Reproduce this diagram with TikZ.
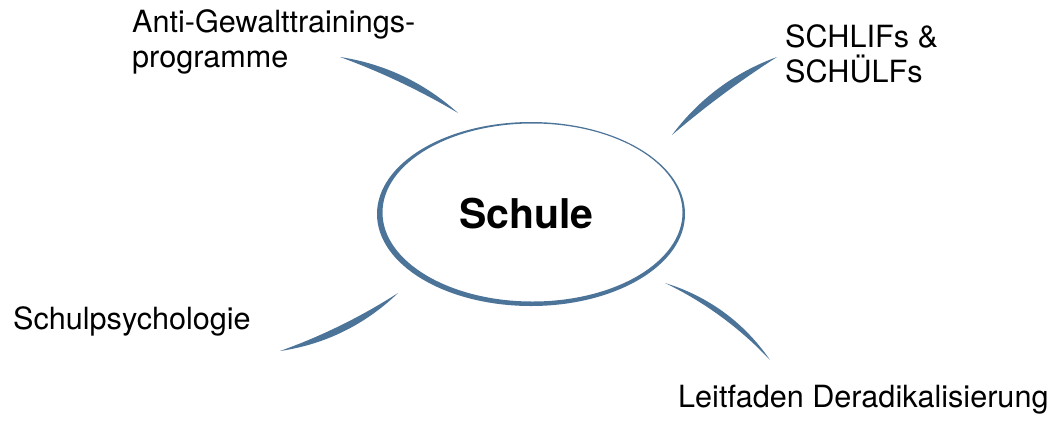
\documentclass[tikz,border=0pt]{standalone}
\usepackage{fontspec}
\setmainfont{TeX Gyre Heros}
\usepackage{xcolor}
\usetikzlibrary{calc}

\definecolor{schulblau}{RGB}{76,116,153}

% crescent swoosh between two points: outer and inner bulge
\newcommand{\swoosh}[4]{%
  \fill[swoosh] (#1)
    .. controls ($(#1)!.33!(#2)!#3!90:(#2)$) and ($(#1)!.67!(#2)!#3!90:(#2)$) .. (#2)
    .. controls ($(#1)!.67!(#2)!#4!90:(#2)$) and ($(#1)!.33!(#2)!#4!90:(#2)$) .. (#1)
    -- cycle;%
}

\begin{document}
\begin{tikzpicture}[
		x=1pt, y=-1pt,
		label/.style={
				font=\fontsize{30.6}{35}\selectfont,
				inner sep=0pt, align=left, anchor=base west
			},
		center/.style={
				font=\fontsize{41}{45}\selectfont\bfseries,
				inner sep=0pt, anchor=base
			},
		swoosh/.style={fill=schulblau}
	]

	\useasboundingbox (0,0) rectangle (1056,424);

	% Ellipse (brush stroke, thicker bottom left)
	\fill[schulblau, even odd rule]
	(531,214) ellipse [x radius=154, y radius=92]
	(532.5,212.5) ellipse [x radius=150, y radius=89];

	\node[center] (schule) at (526.5,228) {Schule};

	% Labels (base = last line)
	\node[label] (agt) at (132,67) {Anti-Gewalttrainings-\\programme};
	\node[label] (schlif) at (785,82) {SCHLIFs \&\\SCHÜLFs};
	\node[label] (psych) at (13,329) {Schulpsychologie};
	\node[label] (leit) at (678,407) {Leitfaden Deradikalisierung};

	% Swoosh end points
	\coordinate (agt-a) at (340,57);
	\coordinate (agt-b) at (458,113);
	\coordinate (schlif-a) at (672,135);
	\coordinate (schlif-b) at (777,57);
	\coordinate (psych-a) at (280,351);
	\coordinate (psych-b) at (398,293);
	\coordinate (leit-a) at (665,283);
	\coordinate (leit-b) at (770,360);

	% Swooshes
	\swoosh{agt-a}{agt-b}{13pt}{4pt}
	\swoosh{schlif-a}{schlif-b}{13pt}{3pt}
	\swoosh{psych-a}{psych-b}{-14pt}{-5pt}
	\swoosh{leit-a}{leit-b}{15pt}{8pt}

\end{tikzpicture}
\end{document}
